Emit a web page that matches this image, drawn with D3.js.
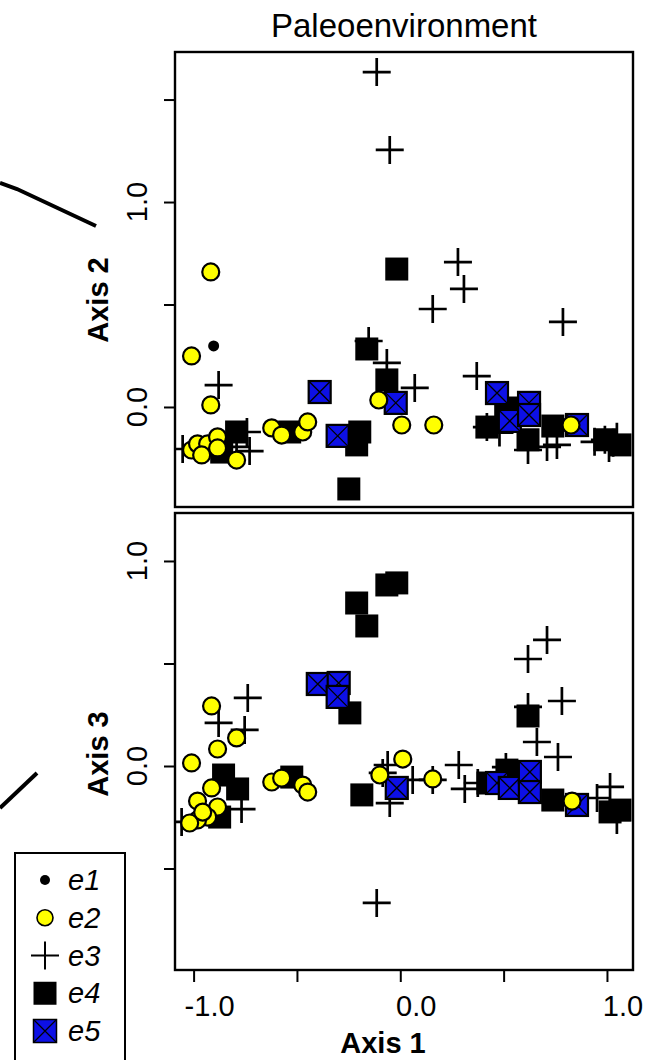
<!DOCTYPE html>
<html>
<head>
<meta charset="utf-8">
<script src="https://cdn.jsdelivr.net/npm/d3@7"></script>
<style>
  body { margin: 0; background: #fff; }
  svg { display: block; }
  text { font-family: "Liberation Sans", Arial, sans-serif; fill: #000; }
</style>
</head>
<body>
<script>
// ordination scores (axis 1, axis 2) and (axis 1, axis 3)
const groups = ["e1", "e2", "e3", "e4", "e5"];

const top_e1 = [[-0.903, 0.298]];
const top_e2 = [
  [-0.917, 0.659], [-1.010, 0.249], [-0.917, 0.010], [-0.104, 0.034], [0.007, -0.088],
  [0.162, -0.088], [0.826, -0.088], [-0.622, -0.102], [-0.574, -0.137], [-0.472, -0.122],
  [-0.448, -0.073], [-1.010, -0.210], [-0.981, -0.180], [-0.932, -0.180], [-0.884, -0.146],
  [-0.884, -0.200], [-0.961, -0.234], [-0.792, -0.259]
];
const top_e3 = [
  [-0.114, 1.634], [-0.051, 1.254], [0.279, 0.707], [0.308, 0.576], [0.157, 0.478],
  [0.787, 0.415], [-0.879, 0.107], [-0.153, 0.322], [-0.065, 0.215], [0.070, 0.093],
  [0.370, 0.151], [-1.053, -0.205], [-0.742, -0.122], [-0.792, -0.195], [-0.729, -0.215],
  [0.419, -0.098], [0.480, -0.125], [0.618, -0.210], [0.710, -0.195], [0.758, -0.185],
  [0.940, -0.170], [0.990, -0.160], [1.030, -0.175], [1.048, -0.145], [1.010, -0.200]
];
const top_e4 = [
  [-0.017, 0.673], [-0.162, 0.283], [-0.065, 0.132], [-0.196, -0.122], [-0.211, -0.185],
  [-0.249, -0.400], [-0.792, -0.122], [-0.864, -0.220], [-0.535, -0.122], [0.419, -0.098],
  [0.510, -0.005], [0.618, -0.160], [0.738, -0.093], [0.990, -0.160], [1.063, -0.185]
];
const top_e5 = [
  [-0.390, 0.073], [-0.303, -0.141], [-0.022, 0.020], [0.468, 0.068], [0.530, -0.068],
  [0.623, 0.020], [0.623, -0.039], [0.855, -0.088]
];

const bot_e2 = [
  [-0.913, 0.293], [-0.792, 0.137], [-0.884, 0.083], [-1.010, 0.015], [-0.913, -0.107],
  [-0.981, -0.171], [-0.884, -0.200], [-0.932, -0.249], [-0.981, -0.263], [-1.019, -0.278],
  [-0.956, -0.225], [-0.622, -0.078], [-0.574, -0.059], [-0.472, -0.093], [-0.448, -0.127],
  [-0.099, -0.044], [0.012, 0.034], [0.157, -0.063], [0.831, -0.171]
];
const bot_e3 = [
  [-0.114, -0.668], [0.710, 0.615], [0.618, 0.522], [0.782, 0.317], [0.618, 0.288],
  [0.661, 0.117], [0.763, 0.044], [-0.738, 0.332], [-0.879, 0.210], [-0.753, 0.176],
  [-0.768, -0.210], [-1.058, -0.273], [-0.061, 0.005], [-0.085, -0.034], [-0.051, -0.181],
  [0.060, -0.068], [0.157, -0.068], [0.283, 0.005], [0.312, -0.112], [0.375, -0.083],
  [0.511, -0.005], [0.952, -0.156], [1.015, -0.102], [1.048, -0.263]
];
const bot_e4 = [
  [-0.017, 0.893], [-0.065, 0.883], [-0.211, 0.795], [-0.162, 0.683], [-0.244, 0.259],
  [0.618, 0.244], [-0.855, -0.044], [-0.787, -0.112], [-0.874, -0.249], [-0.525, -0.054],
  [-0.186, -0.141], [0.738, -0.166], [1.015, -0.224], [1.063, -0.215], [0.424, -0.083],
  [0.516, -0.020]
];
const bot_e5 = [
  [-0.399, 0.400], [-0.298, 0.405], [-0.303, 0.337], [-0.017, -0.107], [0.468, -0.083],
  [0.530, -0.107], [0.627, -0.029], [0.627, -0.127], [0.855, -0.190]
];

const xTicks = [-1.0, -0.5, 0.0, 0.5, 1.0];
const xLabels = ["-1.0", "0.0", "1.0"];
const topTicks = [0.0, 0.5, 1.0, 1.5];
const botTicks = [-0.5, 0.0, 0.5, 1.0];
const yLabels = ["0.0", "1.0"];

const width = 655, height = 1060;
const svg = d3.select("body").append("svg").attr("width", width).attr("height", height);

const x = d3.scaleLinear().domain([-1.09, 1.126]).range([175, 633]);
const yTop = d3.scaleLinear().domain([-0.488, 1.732]).range([507, 52]);
const yBot = d3.scaleLinear().domain([-0.995, 1.234]).range([970, 513]);

const fmt = d => d.toFixed(1);

function marker(sel, key) {
  if (key === "e1") {
    sel.append("circle").attr("r", 5.5).attr("fill", "#000");
  } else if (key === "e2") {
    sel.append("circle").attr("r", 8.5).attr("fill", "#ffff00")
      .attr("stroke", "#000").attr("stroke-width", 2.2);
  } else if (key === "e3") {
    sel.append("path").attr("d", "M-14,0H14M0,-14V14")
      .attr("stroke", "#000").attr("stroke-width", 2.7).attr("fill", "none");
  } else if (key === "e4") {
    sel.append("rect").attr("x", -11.5).attr("y", -11.5).attr("width", 23).attr("height", 23)
      .attr("fill", "#000");
  } else {
    sel.append("rect").attr("x", -11).attr("y", -11).attr("width", 22).attr("height", 22)
      .attr("fill", "#0d10e6").attr("stroke", "#000").attr("stroke-width", 2.2);
    sel.append("path").attr("d", "M-11,-11L11,11M11,-11L-11,11")
      .attr("stroke", "#000").attr("stroke-width", 1.3);
  }
}

function panel(id, y, sets, ticks) {
  const [y0, y1] = y.range();
  svg.append("clipPath").attr("id", id)
    .append("rect").attr("x", 175).attr("y", y1).attr("width", 458).attr("height", y0 - y1);

  const g = svg.append("g").attr("clip-path", `url(#${id})`);
  // draw order as in the picture
  ["e3", "e4", "e5", "e2", "e1"].forEach(k => {
    if (!sets[k]) return;
    g.selectAll(`g.${k}`).data(sets[k]).enter().append("g")
      .attr("class", k)
      .attr("transform", d => `translate(${x(d[0])},${y(d[1])})`)
      .each(function() { marker(d3.select(this), k); });
  });

  svg.append("rect").attr("x", 175).attr("y", y1).attr("width", 458).attr("height", y0 - y1)
    .attr("fill", "none").attr("stroke", "#000").attr("stroke-width", 2.4);

  const ax = svg.append("g").attr("transform", "translate(175,0)")
    .call(d3.axisLeft(y).tickValues(ticks).tickSize(11).tickFormat(""));
  ax.select(".domain").remove();
  ax.selectAll("line").attr("stroke-width", 2);

  svg.selectAll(null).data(ticks.filter(t => yLabels.includes(fmt(t)))).enter().append("text")
    .attr("transform", d => `translate(147,${y(d)}) rotate(-90)`)
    .attr("text-anchor", "middle").attr("font-size", 29)
    .text(fmt);
}

panel("clipTop", yTop, { e1: top_e1, e2: top_e2, e3: top_e3, e4: top_e4, e5: top_e5 }, topTicks);
panel("clipBot", yBot, { e2: bot_e2, e3: bot_e3, e4: bot_e4, e5: bot_e5 }, botTicks);

// x axis under the lower panel
const xa = svg.append("g").attr("transform", "translate(0,970)")
  .call(d3.axisBottom(x).tickValues(xTicks).tickSize(12).tickFormat(""));
xa.select(".domain").remove();
xa.selectAll("line").attr("stroke-width", 2);
svg.selectAll(null).data(xTicks.filter(t => xLabels.includes(fmt(t)))).enter().append("text")
  .attr("x", d => x(d) + 16).attr("y", 1016)
  .attr("text-anchor", "middle").attr("font-size", 29)
  .text(fmt);

// titles
svg.append("text").attr("x", 404).attr("y", 37).attr("text-anchor", "middle")
  .attr("font-size", 33).text("Paleoenvironment");
svg.append("text").attr("x", 383).attr("y", 1053).attr("text-anchor", "middle")
  .attr("font-size", 29).attr("font-weight", "bold").text("Axis 1");
svg.append("text").attr("transform", "translate(108,300) rotate(-90)")
  .attr("text-anchor", "middle").attr("font-size", 29).attr("font-weight", "bold").text("Axis 2");
svg.append("text").attr("transform", "translate(108,754) rotate(-90)")
  .attr("text-anchor", "middle").attr("font-size", 29).attr("font-weight", "bold").text("Axis 3");

// pieces of the neighbouring figure, cut at the left edge
svg.append("path").attr("d", "M0,183L17,189L96,226")
  .attr("stroke", "#000").attr("stroke-width", 4).attr("fill", "none");
svg.append("path").attr("d", "M0,808L37,773")
  .attr("stroke", "#000").attr("stroke-width", 4).attr("fill", "none");

// legend
svg.append("rect").attr("x", 15).attr("y", 853).attr("width", 110).attr("height", 220)
  .attr("fill", "#fff").attr("stroke", "#000").attr("stroke-width", 2);
const ly = d3.scalePoint().domain(groups).range([880, 1031]);
const lg = svg.selectAll("g.leg").data(groups).enter().append("g")
  .attr("class", "leg").attr("transform", d => `translate(0,${ly(d)})`);
lg.each(function(k) {
  const m = d3.select(this).append("g").attr("transform", "translate(45,0)");
  if (k === "e1") m.append("circle").attr("r", 5).attr("fill", "#000");
  else if (k === "e2") m.append("circle").attr("r", 8).attr("fill", "#ffff00").attr("stroke", "#000").attr("stroke-width", 1.6);
  else if (k === "e3") m.append("path").attr("d", "M-14,0H14M0,-14V14").attr("stroke", "#000").attr("stroke-width", 2);
  else if (k === "e4") m.append("rect").attr("x", -11.5).attr("y", -11.5).attr("width", 23).attr("height", 23).attr("fill", "#000");
  else {
    m.append("rect").attr("x", -11.5).attr("y", -11.5).attr("width", 23).attr("height", 23)
      .attr("fill", "#0d10e6").attr("stroke", "#000").attr("stroke-width", 1.5);
    m.append("path").attr("d", "M-11.5,-11.5L11.5,11.5M11.5,-11.5L-11.5,11.5").attr("stroke", "#000").attr("stroke-width", 1.2);
  }
});
lg.append("text").attr("x", 68).attr("y", 10).attr("font-size", 29).attr("font-style", "italic")
  .text(d => d);
</script>
</body>
</html>
